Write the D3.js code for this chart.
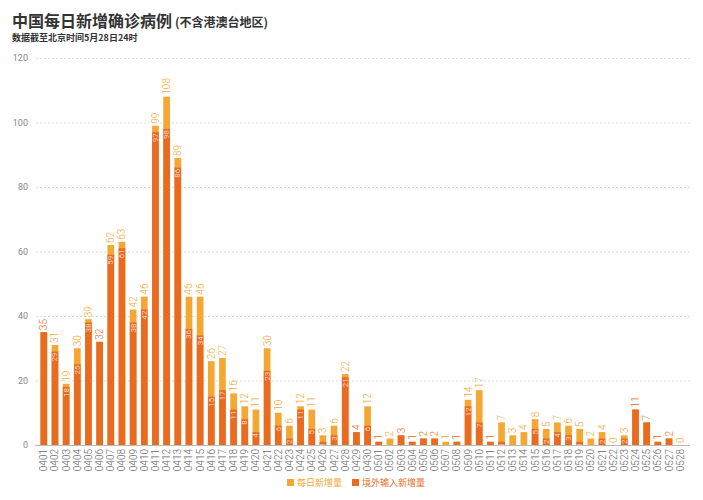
<!DOCTYPE html>
<html>
<head>
<meta charset="utf-8">
<script src="https://cdn.jsdelivr.net/npm/d3@7"></script>
<style>
  body { margin: 0; background: #fff; }
  svg { display: block; font-family: "Noto Sans CJK SC", "Noto Sans", sans-serif; }
</style>
</head>
<body>
<svg id="chart" width="703" height="500"></svg>
<script>
const dates = [
  "0401","0402","0403","0404","0405","0406","0407","0408","0409","0410",
  "0411","0412","0413","0414","0415","0416","0417","0418","0419","0420",
  "0421","0422","0423","0424","0425","0426","0427","0428","0429","0430",
  "0501","0502","0503","0504","0505","0506","0507","0508","0509","0510",
  "0511","0512","0513","0514","0515","0516","0517","0518","0519","0520",
  "0521","0522","0523","0524","0525","0526","0527","0528"
];
// 每日新增量
const dailyNew = [
  35, 31, 19, 30, 39, 32, 62, 63, 42, 46,
  99, 108, 89, 46, 46, 26, 27, 16, 12, 11,
  30, 10, 6, 12, 11, 3, 6, 22, 4, 12,
  1, 2, 3, 1, 2, 2, 1, 1, 14, 17,
  1, 7, 3, 4, 8, 5, 7, 6, 5, 2,
  4, 0, 3, 11, 7, 1, 2, 0
];
// 境外输入新增量
const imported = [
  35, 29, 18, 25, 38, 32, 59, 61, 38, 42,
  97, 98, 86, 36, 34, 15, 17, 11, 8, 4,
  23, 6, 2, 11, 5, 1, 3, 21, 4, 6,
  1, 0, 3, 1, 2, 2, 0, 1, 12, 7,
  1, 1, 0, 0, 5, 2, 4, 3, 1, 0,
  2, 0, 2, 11, 7, 1, 2, 0
];
const yTicks = [0, 20, 40, 60, 80, 100, 120];

const lightOrange = "#f5a733";
const darkOrange = "#e96b22";
const numFont = "Roboto, 'Liberation Sans', sans-serif";

const svg = d3.select("#chart");
const rows = dates.map((d, i) => ({ date: d, total: dailyNew[i], imp: imported[i] }));

const x = d3.scaleBand().domain(dates).range([36, 688]).padding(0.4);
const y = d3.scaleLinear().domain([0, 120]).range([445, 58]);

// title
const title = svg.append("text").attr("x", 12).attr("y", 27)
  .attr("fill", "#333").attr("font-weight", "bold").attr("font-size", 16);
title.append("tspan").text("中国每日新增确诊病例");
title.append("tspan").attr("font-size", 12).attr("dx", 3).text("(不含港澳台地区)");

svg.append("text").attr("x", 12).attr("y", 41)
  .attr("fill", "#333").attr("font-weight", "bold").attr("font-size", 9)
  .text("数据截至北京时间5月28日24时");

// grid + y axis
const yAxis = svg.append("g").attr("transform", "translate(690,0)")
  .call(d3.axisLeft(y).tickValues(yTicks).tickSize(655).tickPadding(7));
yAxis.select(".domain").remove();
yAxis.selectAll(".tick line")
  .attr("stroke-dasharray", d => d === 0 ? null : "2,2")
  .attr("stroke", d => d === 0 ? "#bbb" : "#dcdcdc");
yAxis.selectAll(".tick text")
  .attr("fill", "#888").attr("font-size", 9).attr("font-family", numFont);

// bars
const bars = svg.append("g");
bars.selectAll("rect.total").data(rows).join("rect")
  .attr("class", "total")
  .attr("x", d => x(d.date)).attr("width", x.bandwidth())
  .attr("y", d => y(d.total)).attr("height", d => y(0) - y(d.total))
  .attr("fill", lightOrange);
bars.selectAll("rect.imp").data(rows).join("rect")
  .attr("class", "imp")
  .attr("x", d => x(d.date)).attr("width", x.bandwidth())
  .attr("y", d => y(d.imp)).attr("height", d => y(0) - y(d.imp))
  .attr("fill", darkOrange);

// inner labels (imported)
bars.selectAll("text.inner").data(rows.filter(d => d.imp > 0 && d.imp < d.total)).join("text")
  .attr("class", "inner")
  .attr("transform", d => `translate(${x(d.date) + x.bandwidth() / 2 + 2.5},${y(d.imp) + 1}) rotate(-90)`)
  .attr("text-anchor", "end")
  .attr("font-size", 8).attr("font-family", numFont)
  .attr("fill", "rgba(255,255,255,0.7)")
  .text(d => d.imp);

// top labels (total)
bars.selectAll("text.top").data(rows).join("text")
  .attr("class", "top")
  .attr("transform", d => `translate(${x(d.date) + x.bandwidth() / 2 + 3.5},${y(d.total) - 2}) rotate(-90)`)
  .attr("text-anchor", "start")
  .attr("font-size", 10).attr("font-weight", 300).attr("font-family", numFont)
  .attr("fill", d => (d.total > 0 && d.imp === d.total) ? darkOrange : lightOrange)
  .text(d => d.total);

// x axis labels
const xAxis = svg.append("g").attr("transform", "translate(0,445)")
  .call(d3.axisBottom(x).tickSize(0).tickPadding(4));
xAxis.select(".domain").remove();
xAxis.selectAll(".tick text")
  .attr("transform", "rotate(-90)")
  .attr("text-anchor", "end")
  .attr("x", -4).attr("y", 0).attr("dy", "0.35em")
  .attr("fill", "#666").attr("font-size", 10).attr("font-weight", 300).attr("font-family", numFont);

// legend
const legendItems = [
  { label: "每日新增量", color: lightOrange, x: 287 },
  { label: "境外输入新增量", color: darkOrange, x: 352 }
];
const legend = svg.append("g").selectAll("g").data(legendItems).join("g")
  .attr("transform", d => `translate(${d.x},479)`);
legend.append("rect").attr("width", 7).attr("height", 7).attr("fill", d => d.color);
legend.append("text").attr("x", 10).attr("y", 7)
  .attr("font-size", 9).attr("fill", d => d.color).text(d => d.label);
</script>
</body>
</html>
